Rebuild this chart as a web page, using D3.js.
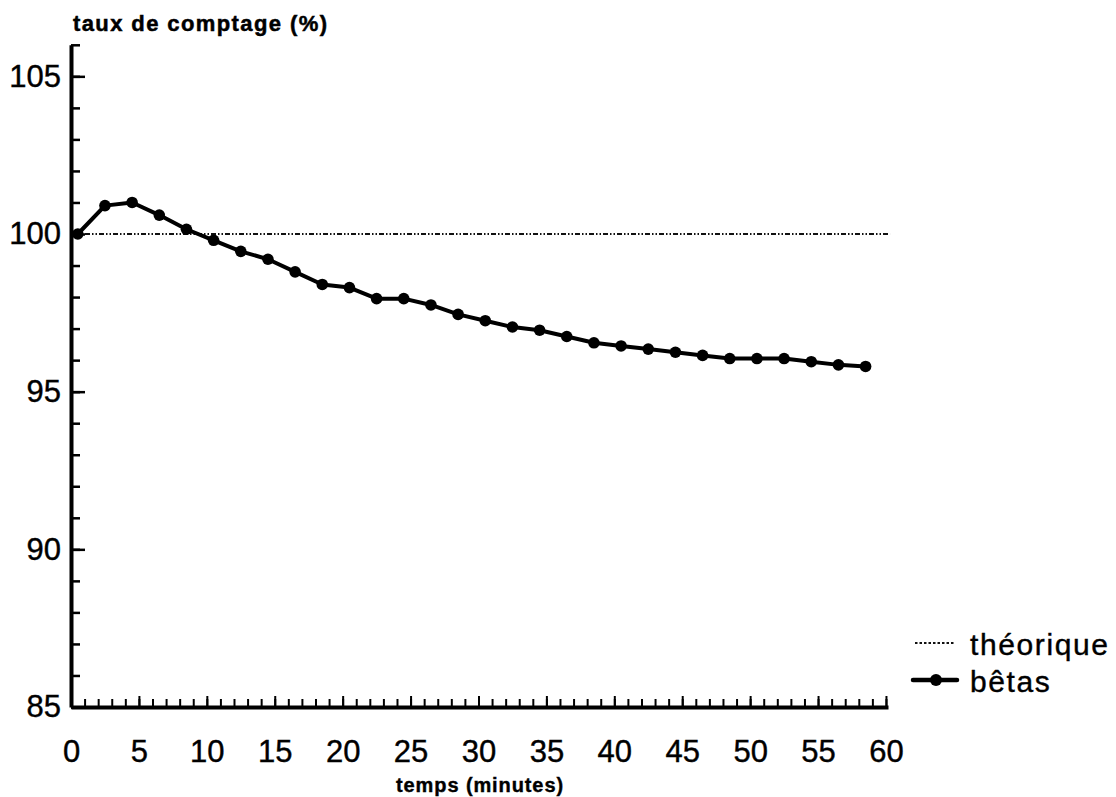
<!DOCTYPE html>
<html lang="fr">
<head>
<meta charset="utf-8">
<title>taux de comptage</title>
<script src="https://d3js.org/d3.v7.min.js"></script>
<style>
  body { margin: 0; background: #fff; }
  svg { display: block; font-family: "Liberation Sans", Arial, Helvetica, sans-serif; }
  .axis path, .axis line { stroke: #000; }
  .axis text { fill: #000; font-size: 31px; stroke: #000; stroke-width: 0.4; }
</style>
</head>
<body>
<div id="chart"></div>
<script>
// Valeurs
var temps = [0.5, 2.5, 4.5, 6.5, 8.5, 10.5, 12.5, 14.5, 16.5, 18.5,
             20.5, 22.5, 24.5, 26.5, 28.5, 30.5, 32.5, 34.5, 36.5, 38.5,
             40.5, 42.5, 44.5, 46.5, 48.5, 50.5, 52.5, 54.5, 56.5, 58.5];
var betas = [100.0, 100.9, 101.0, 100.6, 100.15, 99.8, 99.45, 99.2, 98.8, 98.4,
             98.3, 97.95, 97.95, 97.75, 97.45, 97.25, 97.05, 96.95, 96.75, 96.55,
             96.45, 96.35, 96.25, 96.15, 96.05, 96.05, 96.05, 95.95, 95.85, 95.8];
var theorique = 100;
var xLabels = [0, 5, 10, 15, 20, 25, 30, 35, 40, 45, 50, 55, 60];
var yLabels = [85, 90, 95, 100, 105];
var legendLabels = ["théorique", "bêtas"];

var width = 1116, height = 797;

var x = d3.scaleLinear().domain([0, 60.15]).range([71, 888]);
var y = d3.scaleLinear().domain([85, 106]).range([707, 44.8]);

var svg = d3.select("#chart").append("svg")
    .attr("width", width)
    .attr("height", height);

// ligne théorique (tirets-points)
svg.append("line")
    .attr("x1", x(0)).attr("x2", x(60.3))
    .attr("y1", y(theorique)).attr("y2", y(theorique))
    .attr("stroke", "#111")
    .attr("stroke-width", 1.8)
    .attr("stroke-dasharray", "5,2,1.5,2,1.5,2");

// Axe Y : petites graduations puis grandes avec libellés
svg.append("g")
    .attr("class", "axis")
    .attr("transform", "translate(" + x(0) + ",0)")
    .call(d3.axisLeft(y).tickValues(d3.range(85, 107)).tickSize(-9).tickSizeOuter(0).tickFormat(""))
    .call(function(g) {
        g.select(".domain").attr("stroke-width", 4);
        g.selectAll(".tick line").attr("stroke-width", 2.5);
    });

svg.append("g")
    .attr("class", "axis")
    .attr("transform", "translate(" + x(0) + ",0)")
    .call(d3.axisLeft(y).tickValues(yLabels).tickSize(-14).tickSizeOuter(0).tickPadding(10).tickFormat(d3.format("d")))
    .call(function(g) {
        g.select(".domain").remove();
        g.selectAll(".tick line").attr("stroke-width", 2.5);
    });

// Axe X
svg.append("g")
    .attr("class", "axis")
    .attr("transform", "translate(0," + y(85) + ")")
    .call(d3.axisBottom(x).tickValues(d3.range(0, 61)).tickSize(-8).tickSizeOuter(0).tickFormat(""))
    .call(function(g) {
        g.select(".domain").attr("stroke-width", 4);
        g.selectAll(".tick line").attr("stroke-width", 2);
    });

svg.append("g")
    .attr("class", "axis")
    .attr("transform", "translate(0," + y(85) + ")")
    .call(d3.axisBottom(x).tickValues(xLabels).tickSize(-11).tickSizeOuter(0).tickPadding(33).tickFormat(d3.format("d")))
    .call(function(g) {
        g.select(".domain").remove();
        g.selectAll(".tick line").attr("stroke-width", 2);
    });

// Courbe bêtas
var line = d3.line()
    .x(function(d, i) { return x(temps[i]); })
    .y(function(d) { return y(d); });

svg.append("path")
    .attr("d", line(betas))
    .attr("fill", "none")
    .attr("stroke", "#000")
    .attr("stroke-width", 4)
    .attr("stroke-linejoin", "round");

svg.selectAll(".pt")
    .data(betas)
  .enter().append("circle")
    .attr("class", "pt")
    .attr("cx", function(d, i) { return x(temps[i]); })
    .attr("cy", function(d) { return y(d); })
    .attr("r", 5.8)
    .attr("fill", "#000");

// Titres des axes
svg.append("text")
    .attr("x", 73).attr("y", 31)
    .style("font-size", "22px").style("font-weight", "bold")
    .style("letter-spacing", "1.4px")
    .attr("stroke", "#000").attr("stroke-width", 0.5)
    .text("taux de comptage (%)");

svg.append("text")
    .attr("x", 480).attr("y", 792)
    .attr("text-anchor", "middle")
    .style("font-size", "20px").style("font-weight", "bold")
    .style("letter-spacing", "0.9px")
    .attr("stroke", "#000").attr("stroke-width", 0.4)
    .text("temps (minutes)");

// Légende
var leg = svg.append("g").attr("transform", "translate(913,0)");
var legY = [643, 680];

leg.append("line")
    .attr("x1", 2).attr("x2", 42)
    .attr("y1", legY[0]).attr("y2", legY[0])
    .attr("stroke", "#111").attr("stroke-width", 1.8)
    .attr("stroke-dasharray", "2.5,2");

leg.append("line")
    .attr("x1", 0).attr("x2", 44)
    .attr("y1", legY[1]).attr("y2", legY[1])
    .attr("stroke", "#000").attr("stroke-width", 4.5)
    .attr("stroke-linecap", "round");

leg.append("circle")
    .attr("cx", 23).attr("cy", legY[1]).attr("r", 6)
    .attr("fill", "#000");

leg.selectAll(".lt")
    .data(legendLabels)
  .enter().append("text")
    .attr("class", "lt")
    .attr("x", 57)
    .attr("y", function(d, i) { return legY[i] + 12; })
    .style("font-size", "30px")
    .style("letter-spacing", "1.6px")
    .attr("stroke", "#000").attr("stroke-width", 0.4)
    .text(function(d) { return d; });
</script>
</body>
</html>
